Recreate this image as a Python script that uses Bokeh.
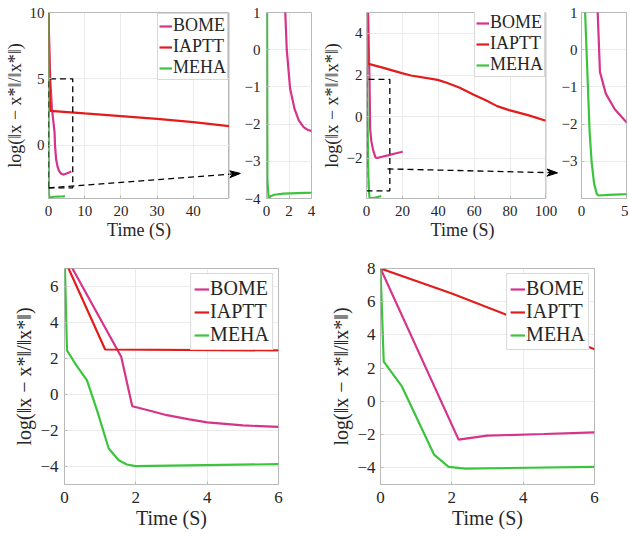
import math
from bokeh.plotting import figure
from bokeh.models import Range1d, FixedTicker, Span, LinearAxis
from bokeh.layouts import row, column
from bokeh.embed import file_html
from bokeh.resources import INLINE

# ---------------- data ----------------
SERIES = ["BOME", "IAPTT", "MEHA"]
COLORS = ["#D6338A", "#E41B1B", "#3CC43C"]

# top-left experiment (main 0-50 s, zoom 0-4 s)
tl_bome_t = [0, 0.28, 0.47, 0.93, 1.67, 1.8, 2.1, 2.5, 2.87, 3.3, 3.7, 4.2, 5.0, 6.3]
tl_bome_v = [10, 6.6, 5.0, 2.8, 1.0, 0.0, -1.05, -1.6, -1.9, -2.08, -2.16, -2.2, -2.12, -1.97]
tl_iaptt_t = [0, 0.45, 10, 20, 30, 40, 50]
tl_iaptt_v = [10, 2.6, 2.4, 2.2, 2.0, 1.75, 1.45]
tl_meha_t = [0, 0.08, 0.19, 0.35, 0.7, 1.5, 4.0, 4.6]
tl_meha_v = [10, -3.5, -4.0, -3.94, -3.9, -3.87, -3.84, -3.83]

# top-right experiment (main 0-100 s, zoom 0-5 s)
tr_bome_t = [0, 0.9, 1.7, 1.8, 2.05, 2.7, 3.7, 5.0, 6.0, 8.0, 12, 16, 20.2]
tr_bome_v = [8, 5, 1.6, 1.0, -0.6, -1.18, -1.6, -1.95, -1.98, -1.93, -1.85, -1.76, -1.68]
tr_iaptt_t = [0, 0.6, 8.5, 19.7, 24.8, 39.7, 44.7, 52, 59.8, 66.5, 72.8, 79.5, 90, 100]
tr_iaptt_v = [8, 2.55, 2.37, 2.09, 1.98, 1.77, 1.63, 1.39, 1.06, 0.79, 0.51, 0.32, 0.08, -0.19]
tr_meha_t = [0, 0.15, 0.4, 0.9, 1.12, 1.4, 1.7, 1.9, 3, 5, 8.2]
tr_meha_v = [8, 5, 1, -2.2, -3.0, -3.6, -3.88, -3.92, -3.9, -3.88, -3.8]

# bottom-left experiment (0-6 s)
bl_bome_t = [0, 1.59, 1.9, 2.4, 2.87, 3.5, 4, 5, 6]
bl_bome_v = [7.8, 2.1, -0.65, -0.9, -1.15, -1.38, -1.55, -1.72, -1.8]
bl_iaptt_t = [0, 1.14, 6]
bl_iaptt_v = [7.5, 2.5, 2.45]
bl_meha_t = [0, 0.07, 0.3, 0.63, 0.91, 1.24, 1.52, 1.75, 1.99, 6]
bl_meha_v = [8, 2.45, 1.72, 0.79, -0.87, -3.0, -3.65, -3.89, -3.98, -3.87]

# bottom-right experiment (0-6 s)
br_bome_t = [0, 2.19, 2.99, 4.58, 6]
br_bome_v = [8, -2.3, -2.06, -1.96, -1.86]
br_iaptt_t = [0, 2, 4, 6]
br_iaptt_v = [8, 6.5, 4.82, 3.14]
br_meha_t = [0, 0.09, 0.6, 1.5, 1.91, 2.38, 6]
br_meha_v = [8, 2.4, 0.9, -3.2, -3.94, -4.04, -3.94]

# axis ranges / ticks
tl_xr, tl_yr = [0, 50], [-4, 10]
tl_xticks, tl_yticks = [0, 10, 20, 30, 40], [0, 5, 10]
tlz_xr, tlz_yr = [0, 4], [-4, 1]
tlz_xticks, tlz_yticks = [0, 2, 4], [-4, -3, -2, -1, 0, 1]
tr_xr, tr_yr = [0, 100], [-3.92, 5]
tr_xticks, tr_yticks = [0, 20, 40, 60, 80, 100], [-2, 0, 2, 4]
trz_xr, trz_yr = [0, 5], [-4, 1]
trz_xticks, trz_yticks = [0, 5], [-3, -2, -1, 0, 1]
b_xr = [0, 6]
b_xticks = [0, 2, 4, 6]
bl_yr, bl_yticks = [-5, 7], [-4, -2, 0, 2, 4, 6]
br_yr, br_yticks = [-5, 8], [-4, -2, 0, 2, 4, 6, 8]

# zoom boxes and arrows (main-plot data units: x0, y0, x1, y1)
tl_box_x, tl_box_y = [0, 6.7], [-3.2, 5.0]
tl_arrow = [0, -3.2, 53.0, -2.11]
tr_box_x, tr_box_y = [0, 13], [-3.55, 1.79]
tr_arrow = [11.7, -2.5, 106.5, -2.69]

FONT = "Liberation Serif"
YLABEL = "log(‖x − x*‖/‖x*‖)"
XLABEL = "Time (S)"
TXT = "#262626"
FRAME = "#B9B9B9"


def style_axis(ax, ticks, fs, so, lab=None, lab_fs=None, lab_so=1, tick_color=FRAME):
    ax.ticker = FixedTicker(ticks=ticks)
    ax.axis_line_color = None
    ax.major_tick_in = 3
    ax.major_tick_out = 0
    ax.major_tick_line_color = tick_color
    ax.minor_tick_line_color = None
    ax.major_label_text_font = FONT
    ax.major_label_text_font_size = f"{fs}px"
    ax.major_label_text_color = TXT
    ax.major_label_standoff = so
    if lab is not None:
        ax.axis_label = lab
        ax.axis_label_text_font = FONT
        ax.axis_label_text_font_size = f"{lab_fs}px"
        ax.axis_label_text_font_style = "normal"
        ax.axis_label_text_color = TXT
        ax.axis_label_standoff = lab_so


def make(width, height, bl, br, bt, bb, xr, yr, xticks, yticks, tick_fs,
         lab_fs=None, xlabel=None, ylabel=None, xso=7, yso=4):
    p = figure(width=width, height=height, min_border_left=bl, min_border_right=br,
               min_border_top=bt, min_border_bottom=bb,
               x_range=Range1d(*xr), y_range=Range1d(*yr),
               output_backend="svg", toolbar_location=None)
    p.outline_line_color = FRAME
    p.outline_line_width = 1
    p.background_fill_color = "white"
    p.border_fill_color = "white"
    style_axis(p.xaxis[0], xticks, tick_fs, xso, xlabel, lab_fs, 1)
    style_axis(p.yaxis[0], yticks, tick_fs, yso, ylabel, lab_fs, 2)
    p.grid.grid_line_color = "#EBEBEB"
    p.grid.grid_line_width = 1
    return p


def draw(p, ts, vs, legend=False):
    for name, t, v, c in zip(SERIES, ts, vs, COLORS):
        kw = {"legend_label": name} if legend else {}
        p.line(t, v, line_color=c, line_width=2.2, **kw)


def style_legend(p, fs, row_h, glyph_w, margin, pad, location="top_right"):
    lg = p.legend[0]
    lg.location = location
    lg.label_text_font = FONT
    lg.label_text_font_size = f"{fs}px"
    lg.label_text_color = TXT
    lg.glyph_width = glyph_w
    lg.glyph_height = row_h
    lg.label_height = row_h
    lg.label_standoff = 1
    lg.spacing = 0
    lg.padding = pad
    lg.margin = margin
    lg.border_line_color = "#B4B4B4"
    lg.border_line_width = 1
    lg.background_fill_color = "white"
    lg.background_fill_alpha = 1


def arrow_geometry(a, px_x, px_y, head_len=11, head_w=3.6, notch=7.5):
    """Shaft end point and vee-head polygon for arrow a (data units)."""
    x0, y0, x1, y1 = a
    dx, dy = (x1 - x0) * px_x, (y1 - y0) * px_y
    d = math.hypot(dx, dy)
    ux, uy = dx / d, dy / d
    nx, ny = -uy, ux

    def pt(back, side):
        return (x1 + (-back * ux + side * nx) / px_x, y1 + (-back * uy + side * ny) / px_y)

    head = [pt(0, 0), pt(head_len, head_w), pt(notch, 0), pt(head_len, -head_w)]
    return pt(notch, 0), head


def draw_arrow(p, a, shaft_end, head):
    p.line([a[0], shaft_end[0]], [a[1], shaft_end[1]], line_color="black",
           line_width=1.3, line_dash="6 4")
    p.patch([q[0] for q in head], [q[1] for q in head], fill_color="black",
            line_color="black", line_width=1)


def zoom_box(p, bx, by):
    p.line([bx[0], bx[1], bx[1], bx[0], bx[0]], [by[0], by[0], by[1], by[1], by[0]],
           line_color="black", line_width=1.3, line_dash="6 4")


def connector(main, x_start, px_x, width):
    """Narrow strip between a main plot and its zoom panel, carrying the arrow head."""
    c = figure(width=width, height=TOP_H, x_range=Range1d(x_start, x_start + width / px_x),
               y_range=main.y_range, min_border_left=0, min_border_right=0,
               min_border_top=TOP_T, min_border_bottom=TOP_B,
               x_axis_type=None, y_axis_type=None,
               output_backend="svg", toolbar_location=None)
    c.outline_line_color = None
    c.background_fill_color = "white"
    c.border_fill_color = "white"
    c.add_layout(Span(location=x_start, dimension="height", line_color=FRAME, line_width=1))
    return c


tl_ts = [tl_bome_t, tl_iaptt_t, tl_meha_t]
tl_vs = [tl_bome_v, tl_iaptt_v, tl_meha_v]
tr_ts = [tr_bome_t, tr_iaptt_t, tr_meha_t]
tr_vs = [tr_bome_v, tr_iaptt_v, tr_meha_v]

TOP_H, TOP_T, TOP_B = 250, 12, 52
BOT_H, BOT_T, BOT_B = 283, 18, 49
FH_TOP = TOP_H - TOP_T - TOP_B

# --- top-left main plot + connector strip ---
f1 = make(229, TOP_H, 48, 0, TOP_T, TOP_B, tl_xr, tl_yr, tl_xticks, tl_yticks, 15, 18, XLABEL, YLABEL)
draw(f1, tl_ts, tl_vs, legend=True)
style_legend(f1, 18, 20, 13, 1, 1)
zoom_box(f1, tl_box_x, tl_box_y)
px1 = (229 - 48) / (tl_xr[1] - tl_xr[0])
py1 = FH_TOP / (tl_yr[1] - tl_yr[0])
end1, head1 = arrow_geometry(tl_arrow, px1, py1)
draw_arrow(f1, tl_arrow, end1, head1)
c1 = connector(f1, tl_xr[1], px1, 12)
draw_arrow(c1, tl_arrow, end1, head1)

# --- top-left zoom ---
f2 = make(77, TOP_H, 20, 7, TOP_T, TOP_B, tlz_xr, tlz_yr, tlz_xticks, tlz_yticks, 15, yso=6)
draw(f2, tl_ts, tl_vs)

# --- top-right main plot: frame extended 13 px right of the box to hold the arrow head ---
F3_W, F3_L, F3_BOX, F3_EXT = 240, 42, 185, 13
px3 = F3_BOX / (tr_xr[1] - tr_xr[0])
py3 = FH_TOP / (tr_yr[1] - tr_yr[0])
x3_end = tr_xr[1] + F3_EXT / px3
f3 = make(F3_W, TOP_H, F3_L, 0, TOP_T, TOP_B, [tr_xr[0], x3_end], tr_yr, tr_xticks, tr_yticks,
          15, 18, XLABEL, YLABEL)
f3.outline_line_color = None
# white strip hiding the grid outside the box
f3.quad(left=tr_xr[1], right=x3_end, bottom=tr_yr[0], top=tr_yr[1],
        fill_color="white", line_color=None)
f3.xaxis[0].bounds = (tr_xr[0], tr_xr[1])
f3.xaxis[0].axis_line_color = FRAME
f3.yaxis[0].axis_line_color = FRAME
top_edge = LinearAxis(ticker=FixedTicker(ticks=[]), bounds=(tr_xr[0], tr_xr[1]),
                      axis_line_color=FRAME, major_tick_line_color=None,
                      minor_tick_line_color=None, major_label_standoff=0)
f3.add_layout(top_edge, "above")
f3.add_layout(Span(location=tr_xr[1], dimension="height", line_color=FRAME, line_width=1))
draw(f3, tr_ts, tr_vs, legend=True)
LEG3_W, LEG3_H = 76, 64
style_legend(f3, 18, 20, 13, 1, 1, location=(F3_BOX - 1 - LEG3_W, FH_TOP - 1 - LEG3_H))
zoom_box(f3, tr_box_x, tr_box_y)
end3, head3 = arrow_geometry(tr_arrow, px3, py3)
draw_arrow(f3, tr_arrow, end3, head3)

# --- top-right zoom ---
f4 = make(70, TOP_H, 18, 2, TOP_T, TOP_B, trz_xr, trz_yr, trz_xticks, trz_yticks, 15, yso=4)
draw(f4, tr_ts, tr_vs)

# --- bottom row ---
f5 = make(318, BOT_H, 64, 40, BOT_T, BOT_B, b_xr, bl_yr, b_xticks, bl_yticks, 17, 20, XLABEL, YLABEL, xso=7, yso=6)
draw(f5, [bl_bome_t, bl_iaptt_t, bl_meha_t], [bl_bome_v, bl_iaptt_v, bl_meha_v], legend=True)
style_legend(f5, 20, 22, 15, 5, 3)

f6 = make(310, BOT_H, 62, 34, BOT_T, BOT_B, b_xr, br_yr, b_xticks, br_yticks, 17, 20, XLABEL, YLABEL, xso=7, yso=5)
draw(f6, [br_bome_t, br_iaptt_t, br_meha_t], [br_bome_v, br_iaptt_v, br_meha_v], legend=True)
style_legend(f6, 20, 22, 15, 5, 3)

layout = column(row(f1, c1, f2, f3, f4), row(f5, f6))

with open("out.html", "w") as fh:
    fh.write(file_html(layout, INLINE, title="chart"))
